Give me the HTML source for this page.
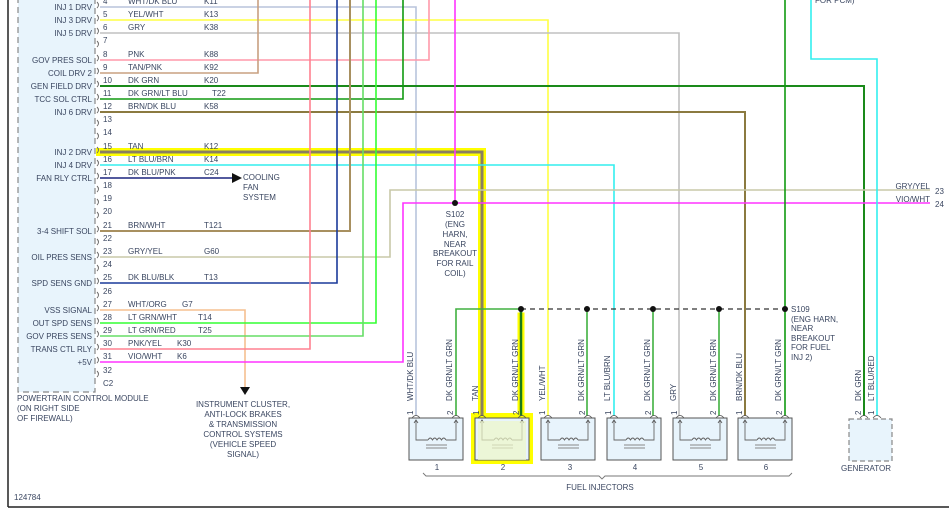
<!DOCTYPE html>
<html><head><meta charset="utf-8"><style>
html,body{margin:0;padding:0;background:#fff;}
svg{display:block;}
text{font-family:"Liberation Sans",sans-serif;font-size:8px;fill:#3a4660;}
</style></head><body>
<svg width="949" height="516" viewBox="0 0 949 516" xmlns="http://www.w3.org/2000/svg">
<rect width="949" height="516" fill="#fff"/>
<!-- frame -->
<line x1="8" y1="0" x2="8" y2="507" stroke="#222" stroke-width="1.5"/>
<line x1="8" y1="507" x2="949" y2="507" stroke="#222" stroke-width="1.5"/>
<!-- module -->
<rect x="18" y="-5" width="77" height="397" fill="#e8f4fc" stroke="#888" stroke-width="1.2" stroke-dasharray="6,4"/>

<!-- highlights -->
<g stroke="#ffff00" fill="none" stroke-linecap="square">
<polyline points="100,152 482,152 482,414" stroke-width="8"/>
<line x1="521" y1="316" x2="521" y2="414" stroke-width="7"/>
</g>
<rect x="471" y="413" width="62" height="51" fill="#ffff00"/>

<!-- wires -->
<g fill="none" stroke-width="1.6">
<polyline points="100,7 416,7 416,416" stroke="#b8c4dc"/>
<polyline points="100,20 548,20 548,416" stroke="#ffff44"/>
<polyline points="100,33 679,33 679,416" stroke="#c0c0c0"/>
<polyline points="100,60 429,60 429,0" stroke="#ff99aa"/>
<polyline points="100,73 258,73 258,0" stroke="#c8a080"/>
<polyline points="100,86 864,86 864,416" stroke="#1a8a1a" stroke-width="2"/>
<polyline points="100,99 403,99 403,0" stroke="#109a10"/>
<polyline points="100,112 745,112 745,416" stroke="#8b7a40" stroke-width="2"/>
<polyline points="100,152 482,152 482,416" stroke="#8a8060" stroke-width="3"/>
<polyline points="100,165 614,165 614,416" stroke="#33eeee"/>
<polyline points="100,178 235,178" stroke="#1a237e"/>
<polyline points="100,231 350,231 350,0" stroke="#a89060" stroke-width="2"/>
<polyline points="100,257 390,257 390,190 930,190" stroke="#c8c8a8"/>
<polyline points="100,283 337,283 337,0" stroke="#1a3a9a"/>
<polyline points="100,310 245,310 245,390" stroke="#f5c090"/>
<polyline points="100,323 376,323 376,0" stroke="#33ff33"/>
<polyline points="100,336 363,336 363,0" stroke="#66dd66"/>
<polyline points="100,349 310,349 310,0" stroke="#ff8090"/>
<polyline points="100,362 403,362 403,203 930,203" stroke="#ff33ff"/>
<line x1="455" y1="0" x2="455" y2="203" stroke="#ff33ff"/>
<line x1="785" y1="0" x2="785" y2="416" stroke="#109a10"/>
<polyline points="811,0 811,59 877,59 877,416" stroke="#33eeee"/>
<polyline points="456,416 456,309 521,309" stroke="#40b040"/>
<line x1="521" y1="309" x2="521" y2="416" stroke="#1a7a1a" stroke-width="2.5"/>
<line x1="587" y1="309" x2="587" y2="416" stroke="#40b040"/>
<line x1="653" y1="309" x2="653" y2="416" stroke="#40b040"/>
<line x1="719" y1="309" x2="719" y2="416" stroke="#40b040"/>
<line x1="521" y1="309" x2="785" y2="309" stroke="#333" stroke-width="1.2" stroke-dasharray="5,4"/>
</g>
<g fill="#111">
<circle cx="455" cy="203" r="3"/>
<circle cx="521" cy="309" r="3"/><circle cx="587" cy="309" r="3"/><circle cx="653" cy="309" r="3"/><circle cx="719" cy="309" r="3"/><circle cx="785" cy="309" r="3"/>
<polygon points="232,173 242,178 232,183"/>
<polygon points="240,387 250,387 245,395"/>
</g>

<!-- connector brackets -->
<g fill="none" stroke="#666" stroke-width="0.9">
<path d="M97,2 q3,3 0,6 M97,15 q3,3 0,6 M97,28 q3,3 0,6 M97,41 q3,3 0,6 M97,55 q3,3 0,6 M97,68 q3,3 0,6 M97,81 q3,3 0,6 M97,94 q3,3 0,6 M97,107 q3,3 0,6 M97,120 q3,3 0,6 M97,133 q3,3 0,6 M97,147 q3,3 0,6 M97,160 q3,3 0,6 M97,173 q3,3 0,6 M97,186 q3,3 0,6 M97,199 q3,3 0,6 M97,212 q3,3 0,6 M97,226 q3,3 0,6 M97,239 q3,3 0,6 M97,252 q3,3 0,6 M97,265 q3,3 0,6 M97,278 q3,3 0,6 M97,292 q3,3 0,6 M97,305 q3,3 0,6 M97,318 q3,3 0,6 M97,331 q3,3 0,6 M97,344 q3,3 0,6 M97,357 q3,3 0,6 M97,371 q3,3 0,6"/>
</g>

<!-- pin texts -->
<g>
<text x="103" y="4">4</text><text x="128" y="4">WHT/DK BLU</text><text x="204" y="4">K11</text>
<text x="103" y="17">5</text><text x="128" y="17">YEL/WHT</text><text x="204" y="17">K13</text>
<text x="103" y="30">6</text><text x="128" y="30">GRY</text><text x="204" y="30">K38</text>
<text x="103" y="43">7</text>
<text x="103" y="57">8</text><text x="128" y="57">PNK</text><text x="204" y="57">K88</text>
<text x="103" y="70">9</text><text x="128" y="70">TAN/PNK</text><text x="204" y="70">K92</text>
<text x="103" y="83">10</text><text x="128" y="83">DK GRN</text><text x="204" y="83">K20</text>
<text x="103" y="96">11</text><text x="128" y="96">DK GRN/LT BLU</text><text x="212" y="96">T22</text>
<text x="103" y="109">12</text><text x="128" y="109">BRN/DK BLU</text><text x="204" y="109">K58</text>
<text x="103" y="122">13</text>
<text x="103" y="135">14</text>
<text x="103" y="149">15</text><text x="128" y="149">TAN</text><text x="204" y="149">K12</text>
<text x="103" y="162">16</text><text x="128" y="162">LT BLU/BRN</text><text x="204" y="162">K14</text>
<text x="103" y="175">17</text><text x="128" y="175">DK BLU/PNK</text><text x="204" y="175">C24</text>
<text x="103" y="188">18</text>
<text x="103" y="201">19</text>
<text x="103" y="214">20</text>
<text x="103" y="228">21</text><text x="128" y="228">BRN/WHT</text><text x="204" y="228">T121</text>
<text x="103" y="241">22</text>
<text x="103" y="254">23</text><text x="128" y="254">GRY/YEL</text><text x="204" y="254">G60</text>
<text x="103" y="267">24</text>
<text x="103" y="280">25</text><text x="128" y="280">DK BLU/BLK</text><text x="204" y="280">T13</text>
<text x="103" y="294">26</text>
<text x="103" y="307">27</text><text x="128" y="307">WHT/ORG</text><text x="182" y="307">G7</text>
<text x="103" y="320">28</text><text x="128" y="320">LT GRN/WHT</text><text x="198" y="320">T14</text>
<text x="103" y="333">29</text><text x="128" y="333">LT GRN/RED</text><text x="198" y="333">T25</text>
<text x="103" y="346">30</text><text x="128" y="346">PNK/YEL</text><text x="177" y="346">K30</text>
<text x="103" y="359">31</text><text x="128" y="359">VIO/WHT</text><text x="177" y="359">K6</text>
<text x="103" y="373">32</text>
<text x="103" y="386">C2</text>
</g>
<g text-anchor="end">
<text x="92" y="10">INJ 1 DRV</text>
<text x="92" y="23">INJ 3 DRV</text>
<text x="92" y="36">INJ 5 DRV</text>
<text x="92" y="63">GOV PRES SOL</text>
<text x="92" y="76">COIL DRV 2</text>
<text x="92" y="89">GEN FIELD DRV</text>
<text x="92" y="102">TCC SOL CTRL</text>
<text x="92" y="115">INJ 6 DRV</text>
<text x="92" y="155">INJ 2 DRV</text>
<text x="92" y="168">INJ 4 DRV</text>
<text x="92" y="181">FAN RLY CTRL</text>
<text x="92" y="234">3-4 SHIFT SOL</text>
<text x="92" y="260">OIL PRES SENS</text>
<text x="92" y="286">SPD SENS GND</text>
<text x="92" y="313">VSS SIGNAL</text>
<text x="92" y="326">OUT SPD SENS</text>
<text x="92" y="339">GOV PRES SENS</text>
<text x="92" y="352">TRANS CTL RLY</text>
<text x="92" y="365">+5V</text>
</g>
<text x="17" y="401">POWERTRAIN CONTROL MODULE</text>
<text x="17" y="411">(ON RIGHT SIDE</text>
<text x="17" y="421">OF FIREWALL)</text>
<text x="14" y="500">124784</text>
<text x="243" y="180">COOLING</text><text x="243" y="190">FAN</text><text x="243" y="200">SYSTEM</text>
<g text-anchor="middle">
<text x="243" y="407">INSTRUMENT CLUSTER,</text>
<text x="243" y="417">ANTI-LOCK BRAKES</text>
<text x="243" y="427">&amp; TRANSMISSION</text>
<text x="243" y="437">CONTROL SYSTEMS</text>
<text x="243" y="447">(VEHICLE SPEED</text>
<text x="243" y="457">SIGNAL)</text>
<text x="455" y="217">S102</text><text x="455" y="227">(ENG</text><text x="455" y="237">HARN,</text><text x="455" y="247">NEAR</text><text x="455" y="256">BREAKOUT</text><text x="455" y="266">FOR RAIL</text><text x="455" y="276">COIL)</text>
</g>
<text x="791" y="312">S109</text><text x="791" y="322">(ENG HARN,</text><text x="791" y="331">NEAR</text><text x="791" y="341">BREAKOUT</text><text x="791" y="350">FOR FUEL</text><text x="791" y="360">INJ 2)</text>
<text x="815" y="3">FOR PCM)</text>
<text x="930" y="189" text-anchor="end">GRY/YEL</text><text x="935" y="194">23</text>
<text x="930" y="202" text-anchor="end">VIO/WHT</text><text x="935" y="207">24</text>

<!-- injectors -->
<g id="inj">
<rect x="409" y="418" width="54" height="42" fill="#e8f4fc" stroke="#555" stroke-width="1"/>
<path d="M416,420 V440 H428 M446,440 H456 V420" fill="none" stroke="#666" stroke-width="0.9"/>
<path d="M428,440 q2.25,-4 4.5,0 q2.25,-4 4.5,0 q2.25,-4 4.5,0 q2.25,-4 4.5,0" fill="none" stroke="#666" stroke-width="0.9"/>
<path d="M426,445 H447 M426,448 H447" stroke="#888" stroke-width="0.9"/>
<path d="M412,418 q4,-5 8,0 M452,418 q4,-5 8,0 M414,423 l2,-3 l2,3 M454,423 l2,-3 l2,3" fill="none" stroke="#555" stroke-width="0.8"/>
</g>
<use href="#inj" x="66"/>
<rect x="478" y="421" width="48" height="39" fill="#eef6c8" opacity="0.7"/>
<use href="#inj" x="132"/>
<use href="#inj" x="198"/>
<use href="#inj" x="264"/>
<use href="#inj" x="329"/>
<g text-anchor="middle">
<text x="437" y="470">1</text><text x="503" y="470">2</text><text x="570" y="470">3</text><text x="635" y="470">4</text><text x="701" y="470">5</text><text x="766" y="470">6</text>
<text x="600" y="490">FUEL INJECTORS</text>
<text x="866" y="471">GENERATOR</text>
</g>
<path d="M423,473 l3,3 H599 l3,3 l3,-3 H789 l3,-3" fill="none" stroke="#777" stroke-width="0.9"/>
<!-- generator -->
<rect x="849" y="419" width="43" height="42" fill="#e8f4fc" stroke="#888" stroke-width="1.2" stroke-dasharray="5,3"/>
<path d="M860,418 q4,-5 8,0 M873,418 q4,-5 8,0" fill="none" stroke="#555" stroke-width="0.8"/>

<!-- vertical labels -->
<g>
<text transform="translate(413,401) rotate(-90)">WHT/DK BLU</text>
<text transform="translate(452,401) rotate(-90)">DK GRN/LT GRN</text>
<text transform="translate(478,401) rotate(-90)">TAN</text>
<text transform="translate(518,401) rotate(-90)">DK GRN/LT GRN</text>
<text transform="translate(545,401) rotate(-90)">YEL/WHT</text>
<text transform="translate(584,401) rotate(-90)">DK GRN/LT GRN</text>
<text transform="translate(610,401) rotate(-90)">LT BLU/BRN</text>
<text transform="translate(650,401) rotate(-90)">DK GRN/LT GRN</text>
<text transform="translate(676,401) rotate(-90)">GRY</text>
<text transform="translate(716,401) rotate(-90)">DK GRN/LT GRN</text>
<text transform="translate(742,401) rotate(-90)">BRN/DK BLU</text>
<text transform="translate(781,401) rotate(-90)">DK GRN/LT GRN</text>
<text transform="translate(861,401) rotate(-90)">DK GRN</text>
<text transform="translate(874,401) rotate(-90)">LT BLU/RED</text>
<text transform="translate(413,415) rotate(-90)">1</text><text transform="translate(453,415) rotate(-90)">2</text>
<text transform="translate(479,415) rotate(-90)">1</text><text transform="translate(519,415) rotate(-90)">2</text>
<text transform="translate(545,415) rotate(-90)">1</text><text transform="translate(585,415) rotate(-90)">2</text>
<text transform="translate(611,415) rotate(-90)">1</text><text transform="translate(651,415) rotate(-90)">2</text>
<text transform="translate(677,415) rotate(-90)">1</text><text transform="translate(716,415) rotate(-90)">2</text>
<text transform="translate(742,415) rotate(-90)">1</text><text transform="translate(782,415) rotate(-90)">2</text>
<text transform="translate(861,415) rotate(-90)">2</text><text transform="translate(874,415) rotate(-90)">1</text>
</g>
</svg>
</body></html>
